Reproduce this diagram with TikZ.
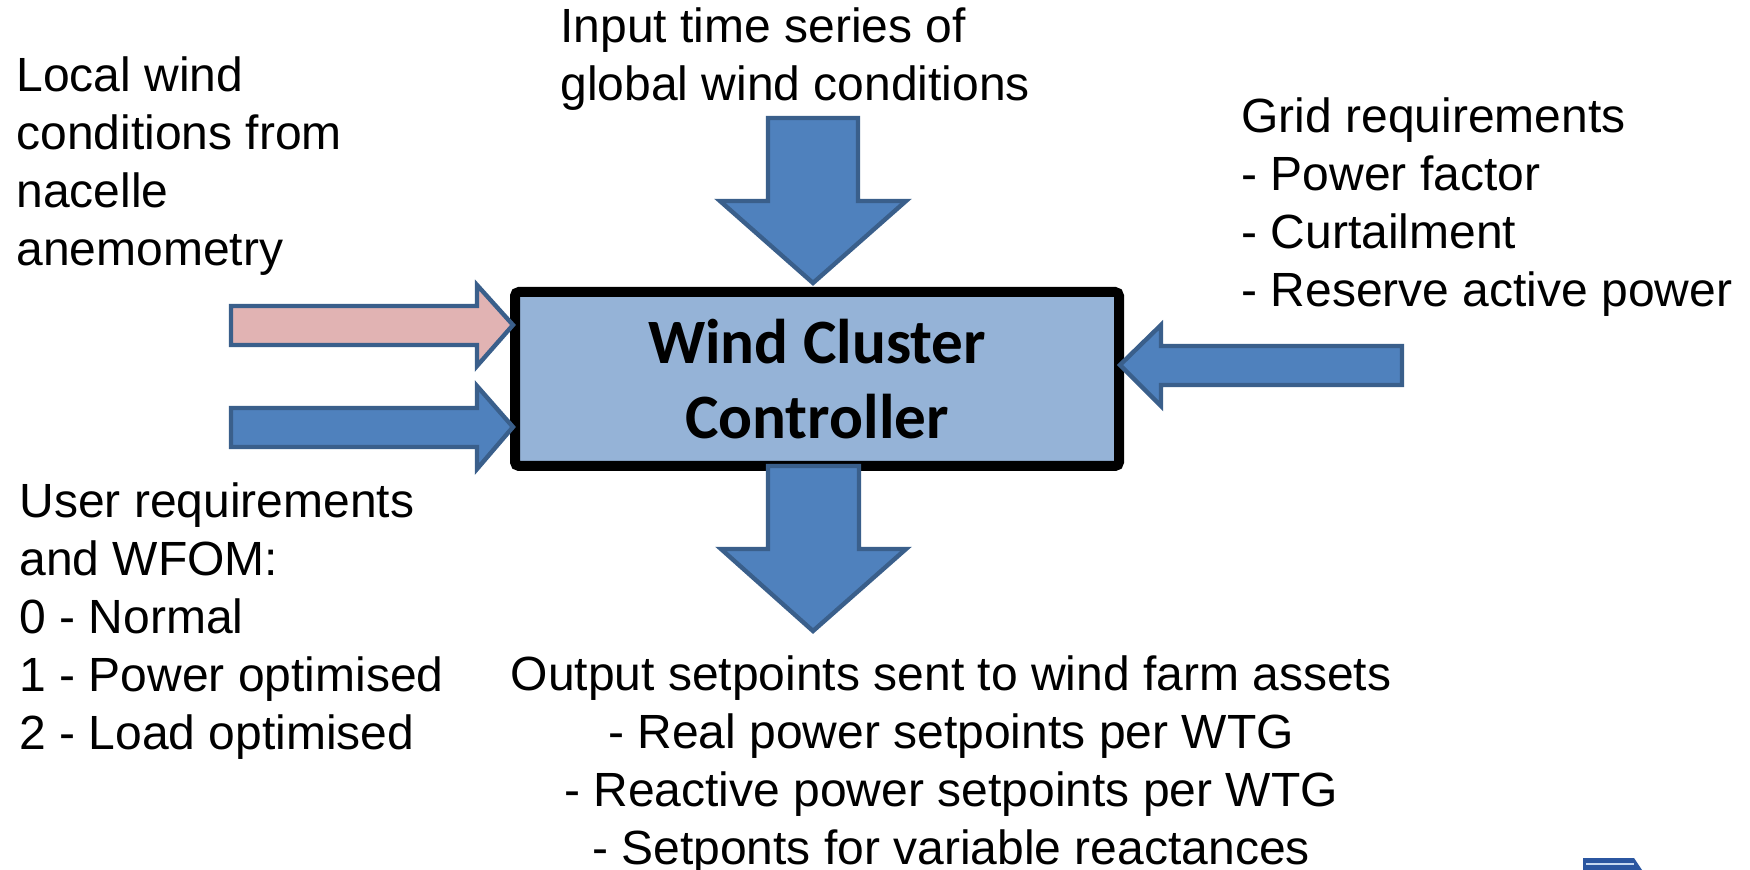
\documentclass[tikz,border=0pt]{standalone}
\usepackage{fontspec}
\setmainfont{Liberation Sans}
\newfontfamily\titlefont{Carlito}
\definecolor{arrowblue}{HTML}{4F81BD}
\definecolor{arrowedge}{HTML}{3A5F8B}
\definecolor{arrowpink}{HTML}{E1B3B3}
\definecolor{boxfill}{HTML}{95B3D7}
\definecolor{logoblue}{HTML}{2B56A0}
\definecolor{logostripe}{HTML}{C6D8F0}
\begin{document}
\begin{tikzpicture}[x=0.5pt,y=-0.5pt,
  lbl/.style={inner sep=0pt, font=\fontsize{24pt}{29pt}\selectfont, align=left, anchor=base west},
  clbl/.style={inner sep=0pt, font=\fontsize{24pt}{29pt}\selectfont, align=center, anchor=base},
  ctrlbox/.style={draw=black, line width=5pt, fill=boxfill, rounded corners=2pt,
    minimum width=302pt, minimum height=87pt, inner sep=0pt, align=center,
    font=\titlefont\bfseries\fontsize{31.6pt}{37.5pt}\selectfont},
  blockarrow/.style={draw=arrowedge, line width=2.2pt, line join=miter, fill=arrowblue},
  pinkarrow/.style={blockarrow, fill=arrowpink}]
\useasboundingbox (0,0) rectangle (1750,870);

\node[ctrlbox] (wcc) at (817,379) {Wind Cluster\\Controller};

% anchors are at the baseline of the last line of each block
\node[lbl] (local) at (16,266) {Local wind\\conditions from\\nacelle\\anemometry};
\node[lbl] (input) at (560,101) {Input time series of\\global wind conditions};
\node[lbl] (grid) at (1241,307) {Grid requirements\\- Power factor\\- Curtailment\\- Reserve active power};
\node[lbl] (user) at (19,749) {User requirements\\and WFOM:\\0 - Normal\\1 - Power optimised\\2 - Load optimised};
\node[clbl] (output) at (951,864) {Output setpoints sent to wind farm assets\\- Real power setpoints per WTG\\- Reactive power setpoints per WTG\\- Setponts for variable reactances};

% top arrow
\draw[blockarrow] ([shift={(-4,-4)}]wcc.north) -- ++(93,-82) -- ++(-48,0) -- ++(0,-83)
  -- ++(-90,0) -- ++(0,83) -- ++(-48,0) -- cycle;
% bottom arrow
\draw[blockarrow] ([shift={(-49,-5)}]wcc.south) -- ++(91,0) -- ++(0,83) -- ++(47,0)
  -- ++(-93,82) -- ++(-92,-82) -- ++(47,0) -- cycle;
% left pink arrow
\draw[pinkarrow] ([shift={(3,-54)}]wcc.west) -- ++(-36,41) -- ++(0,-21) -- ++(-246,0)
  -- ++(0,-39) -- ++(246,0) -- ++(0,-21) -- cycle;
% left blue arrow
\draw[blockarrow] ([shift={(3,48)}]wcc.west) -- ++(-36,42) -- ++(0,-22) -- ++(-246,0)
  -- ++(0,-39) -- ++(246,0) -- ++(0,-22) -- cycle;
% right arrow
\draw[blockarrow] ([shift={(-4,-14)}]wcc.east) -- ++(41,-40) -- ++(0,21) -- ++(241,0)
  -- ++(0,39) -- ++(-241,0) -- ++(0,21) -- cycle;

% partial logo at bottom right
\fill[logoblue] (1583,858) -- (1634,858) -- (1642,870) -- (1583,870) -- cycle;
\draw[logostripe, line width=1pt] (1586,863.5) -- (1634,863.5);
\end{tikzpicture}
\end{document}
